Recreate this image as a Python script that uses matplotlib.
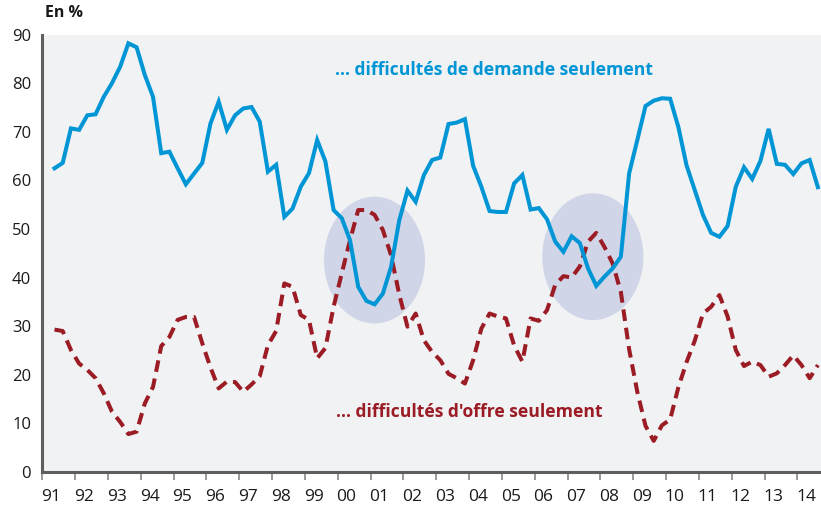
import numpy as np
import pandas as pd
import matplotlib
matplotlib.use('Agg')
import matplotlib.pyplot as plt
from matplotlib.patches import Ellipse

plt.rcParams['font.family'] = ['Open Sans', 'DejaVu Sans']

# trimestres 1991T2 -> 2014T3
quarters = pd.period_range('1991Q2', '2014Q3', freq='Q')

# difficultés de demande seulement (%)
demande = [62.5, 63.6, 70.7, 70.4, 73.4, 73.6, 77.2, 80.0, 83.4, 88.2, 87.4, 81.7,
           77.2, 65.6, 65.9, 62.5, 59.2, 61.4, 63.6, 71.7, 76.2, 70.4, 73.4, 74.8,
           75.1, 72.1, 61.8, 63.2, 52.5, 54.2, 58.7, 61.5, 68.3, 63.9, 53.9, 52.2,
           47.7, 38.1, 35.2, 34.5, 36.7, 42.2, 51.8, 57.9, 55.6, 61.1, 64.2, 64.7,
           71.6, 71.9, 72.6, 63.0, 58.7, 53.7, 53.5, 53.5, 59.4, 61.1, 54.0, 54.3,
           52.0, 47.4, 45.3, 48.5, 47.1, 41.9, 38.3, 40.2, 41.9, 44.3, 61.4, 68.3,
           75.3, 76.4, 76.9, 76.8, 71.0, 63.1, 58.0, 52.9, 49.2, 48.4, 50.6, 58.7,
           62.7, 60.3, 64.0, 70.6, 63.4, 63.2, 61.3, 63.5, 64.2, 58.6]

# difficultés d'offre seulement (%)
offre = [29.3, 29.0, 25.1, 22.3, 21.0, 19.3, 16.2, 12.4, 10.3, 7.8, 8.3, 14.1,
         17.5, 25.9, 27.8, 31.3, 31.9, 31.9, 26.5, 21.5, 17.2, 18.6, 18.5, 16.5,
         18.0, 19.7, 26.1, 29.0, 38.8, 38.1, 32.3, 31.3, 23.4, 25.5, 34.0, 40.9,
         47.7, 53.9, 53.9, 52.9, 49.8, 44.6, 36.5, 29.9, 32.6, 27.1, 24.7, 23.0,
         20.2, 19.3, 18.2, 23.0, 29.5, 32.6, 32.0, 31.6, 26.0, 22.7, 31.6, 31.1,
         33.3, 38.5, 40.3, 40.0, 42.3, 47.4, 49.2, 46.3, 42.9, 37.0, 25.3, 16.5,
         9.5, 6.4, 9.6, 10.8, 17.4, 22.6, 27.0, 32.6, 34.0, 36.4, 32.0, 25.1,
         21.8, 22.7, 22.0, 19.6, 20.3, 22.0, 24.0, 22.0, 19.3, 22.0]

years = list(range(1991, 2015))
year_labels = ['%02d' % (y % 100) for y in years]

# zones entourées (centre année, centre %)
cercles = [(2001.12, 43.6), (2007.77, 44.3)]

BLEU = '#0096d6'
ROUGE = '#9b1c24'

x = np.array([q.year + (q.quarter - 0.5) / 4 for q in quarters])

fig = plt.figure(figsize=(8.21, 5.08), dpi=100)
ax = fig.add_axes([0.0514, 0.0709, 0.9486, 0.861])
ax.set_facecolor('#f1f2f4')

for cx, cy in cercles:
    ax.add_patch(Ellipse((cx, cy), 3.08, 26.1, facecolor='#d0d6e7',
                         edgecolor='none', zorder=1))

ax.plot(x, demande, color=BLEU, lw=2.9, zorder=3, solid_joinstyle='miter')
ax.plot(x, offre, color=ROUGE, lw=2.9, zorder=2, dashes=(2.9, 1.7))

ax.set_xlim(1991, 2014.72)
ax.set_ylim(0, 90)

for s in ['top', 'right']:
    ax.spines[s].set_visible(False)
for s in ['left', 'bottom']:
    ax.spines[s].set_color('#5f5f5f')
    ax.spines[s].set_linewidth(2.2)

ax.set_yticks(range(0, 91, 10))
ax.tick_params(axis='y', length=0, pad=8, labelsize=12, labelcolor='#1a1a1a')

ax.set_xticks(years)
ax.set_xticklabels([''] * len(years))
ax.tick_params(axis='x', which='major', length=6, width=1.4, color='#9a9a9a')
ax.set_xticks([y + 0.27 for y in years], minor=True)
ax.set_xticklabels(year_labels, minor=True)
ax.tick_params(axis='x', which='minor', length=0, pad=12, labelsize=12.5,
               labelcolor='#1a1a1a')

ax.text(1999.92, 82.7, '… difficultés de demande seulement', color=BLEU,
        fontsize=12.6, fontweight='bold', va='center', ha='left')
ax.text(1999.95, 12.4, "… difficultés d'offre seulement", color=ROUGE,
        fontsize=12.6, fontweight='bold', va='center', ha='left')

fig.text(45 / 821, 1 - 13 / 508, 'En %', fontsize=11.5, fontweight='bold',
         va='center', ha='left', color='#1a1a1a')

fig.savefig('out.png', dpi=100)
